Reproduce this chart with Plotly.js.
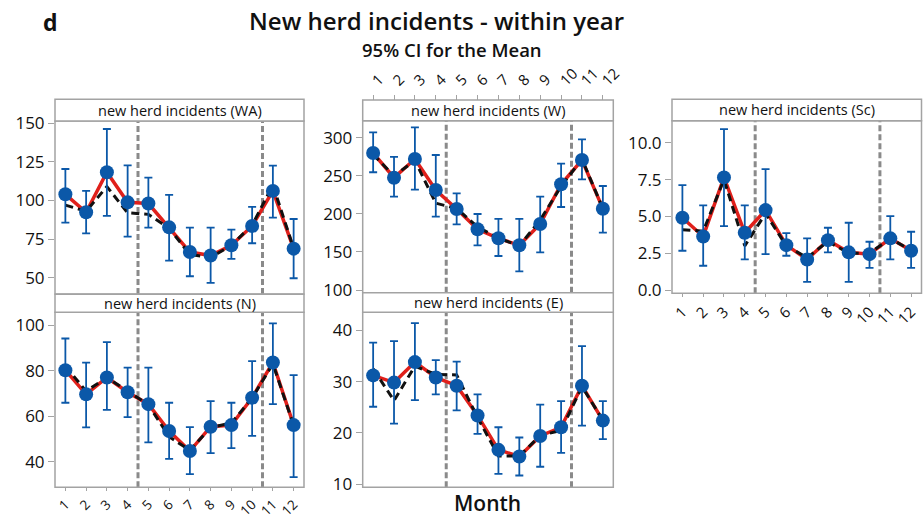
<!DOCTYPE html>
<html>
<head>
<meta charset="utf-8">
<script src="https://cdn.plot.ly/plotly-3.0.1.min.js"></script>
<style>html,body{margin:0;padding:0;background:#fff;}#chart{width:923px;height:519px;}</style>
</head>
<body>
<div id="chart"></div>
<script>
// ---------- DATA ----------
const months = [1,2,3,4,5,6,7,8,9,10,11,12];
const monthLabels = ["1","2","3","4","5","6","7","8","9","10","11","12"];

const waMean  = [104, 92.4, 118.3, 98.8, 98, 82.6, 66.6, 64.3, 71, 83.5, 106.2, 68.8];
const waUpper = [120.4, 106.2, 146.3, 122.8, 114.8, 103.6, 82.4, 82.4, 81.1, 95.8, 122.6, 88];
const waLower = [85.6, 78.7, 90, 76.6, 82.4, 61, 50.9, 46.6, 62.1, 72.3, 88.9, 49.6];
const waFit   = [97, 93, 109, 92, 91, 82, 65, 63, 71, 84, 110, 69];

const nMean  = [80.2, 69.6, 77, 70.5, 65.3, 53.5, 44.7, 55.4, 56.1, 68.1, 83.6, 56.1];
const nUpper = [94.1, 83.5, 92.5, 81.3, 81.3, 65.9, 55.2, 66.6, 65.9, 84.2, 100.7, 78];
const nLower = [65.9, 55.1, 62.8, 59.6, 48.5, 41.3, 34.6, 43.8, 46, 51.4, 65.3, 33.3];
const nFit   = [82, 71, 77, 71, 65, 51, 45, 55, 57, 68, 83, 56];

const wMean  = [279.9, 247.5, 272, 231.3, 206.4, 179.7, 167.9, 158.7, 186.7, 238.8, 270.7, 206.8];
const wUpper = [307.1, 274.7, 313.6, 277.3, 227, 199.8, 193.3, 193.3, 222.5, 265.9, 297.9, 236.6];
const wLower = [254.6, 222.5, 231.7, 196.3, 186.3, 158.7, 144.7, 124.6, 149.5, 209, 245.4, 175.3];
const wFit   = [278, 250, 270, 214, 207, 183, 168, 158, 192, 236, 272, 207];

const eMean  = [31.2, 29.8, 33.8, 30.8, 29.2, 23.4, 16.7, 15.4, 19.4, 21.1, 29.2, 22.4];
const eUpper = [37.6, 37.9, 41.4, 34.2, 33.9, 27.5, 21.1, 19.1, 25.5, 26.2, 36.9, 26.2];
const eLower = [25.1, 21.8, 26.4, 27.5, 24.4, 19.8, 12, 11.7, 13.4, 16.1, 21.4, 18.8];
const eFit   = [32.5, 26.3, 33, 31.4, 31.3, 23, 15.5, 15.5, 19.5, 20.5, 29, 22.5];

const scMean  = [4.91, 3.64, 7.65, 3.89, 5.43, 3.05, 2.08, 3.39, 2.56, 2.44, 3.51, 2.67];
const scUpper = [7.13, 5.75, 10.93, 5.75, 8.21, 3.87, 3.51, 4.23, 4.57, 3.28, 5.02, 3.96];
const scLower = [2.67, 1.65, 4.34, 2.08, 2.44, 2.33, 0.56, 2.56, 0.56, 1.51, 2.08, 1.51];
const scFit   = [4.1, 4.0, 7.5, 3.0, 5.2, 3.0, 2.2, 3.3, 2.5, 2.5, 3.5, 2.7];

const panelNames = ["new herd incidents (WA)", "new herd incidents (N)", "new herd incidents (W)",
                    "new herd incidents (E)", "new herd incidents (Sc)"];
const seasonBreaks = [4.5, 10.5];

// ---------- LAYOUT HELPERS ----------
const W = 923, H = 519;
const px = x => x / W;
const py = y => 1 - y / H;
const FONT = "Open Sans, Noto Sans, sans-serif";
const BLUE = "#0b58a8", RED = "#e0201b", GRAY = "#a3a3a3", DASHGRAY = "#8a8a8a";

const panels = [
  {mean: waMean, up: waUpper, lo: waLower, fit: waFit, x: [55, 304],    plot: [121, 294],    strip: [99.3, 121],   yr: [39.4, 151.5], dt: 25,  fmt: "",    xt: "none",   xf: 15},
  {mean: nMean,  up: nUpper,  lo: nLower,  fit: nFit,  x: [55, 304],    plot: [312.3, 487.3], strip: [294.3, 312.3], yr: [28.8, 105.6], dt: 20,  fmt: "",    xt: "bottom", xf: 13.5},
  {mean: wMean,  up: wUpper,  lo: wLower,  fit: wFit,  x: [362.7, 613.3], plot: [120.7, 292.7], strip: [100, 120.7],  yr: [96.5, 322.3], dt: 50,  fmt: "",    xt: "top",    xf: 15},
  {mean: eMean,  up: eUpper,  lo: eLower,  fit: eFit,  x: [362.7, 613.3], plot: [312.3, 487.3], strip: [292.7, 312.3], yr: [9.4, 43.5],  dt: 10,  fmt: "",    xt: "none",   xf: 15},
  {mean: scMean, up: scUpper, lo: scLower, fit: scFit, x: [672, 921.5], plot: [120.7, 293.3], strip: [99.3, 120.7], yr: [-0.22, 11.5], dt: 2.5, fmt: ".1f", xt: "bottom", xf: 15}
];

const traces = [];
const layout = {
  width: W, height: H,
  margin: {l: 0, r: 0, t: 0, b: 0},
  paper_bgcolor: "#fff", plot_bgcolor: "#fff",
  showlegend: false,
  font: {family: FONT, color: "#111"},
  shapes: [], annotations: []
};

panels.forEach((p, i) => {
  const n = i + 1;
  const xa = n === 1 ? "x" : "x" + n;
  const ya = n === 1 ? "y" : "y" + n;
  const xKey = n === 1 ? "xaxis" : "xaxis" + n;
  const yKey = n === 1 ? "yaxis" : "yaxis" + n;

  const xaxis = {
    domain: [px(p.x[0]), px(p.x[1])],
    range: [0.5, 12.5],
    showgrid: false, zeroline: false, showline: false,
    tickmode: "array", tickvals: months, ticktext: monthLabels,
    tickangle: -45,
    tickfont: {family: FONT, size: p.xf, color: "#111"},
    ticks: "", showticklabels: false,
    anchor: ya, fixedrange: true
  };
  if (p.xt === "bottom") {
    xaxis.ticks = "outside"; xaxis.ticklen = 3; xaxis.tickcolor = GRAY; xaxis.tickwidth = 1;
    xaxis.showticklabels = true;
  } else if (p.xt === "top") {
    xaxis.ticks = "outside"; xaxis.ticklen = 5; xaxis.tickcolor = GRAY; xaxis.tickwidth = 1;
    xaxis.showticklabels = true;
    xaxis.side = "top";
    xaxis.anchor = "free";
    xaxis.position = py(p.strip[0]);
  }
  layout[xKey] = xaxis;

  layout[yKey] = {
    domain: [py(p.plot[1]), py(p.plot[0])],
    range: p.yr,
    dtick: p.dt, tick0: 0,
    tickformat: p.fmt,
    showgrid: false, zeroline: false, showline: false,
    ticks: "outside", ticklen: 6, tickcolor: GRAY, tickwidth: 1,
    tickfont: {family: FONT, size: 17, color: "#111"},
    anchor: xa, fixedrange: true
  };

  // red mean line
  traces.push({x: months, y: p.mean, xaxis: xa, yaxis: ya, type: "scatter", mode: "lines",
    line: {color: RED, width: 3.5}, hoverinfo: "skip"});
  // black dashed line
  traces.push({x: months, y: p.fit, xaxis: xa, yaxis: ya, type: "scatter", mode: "lines",
    line: {color: "#111", width: 3, dash: "8px,5px"}, hoverinfo: "skip"});
  // CI bars + mean markers
  traces.push({x: months, y: p.mean, xaxis: xa, yaxis: ya, type: "scatter", mode: "markers",
    marker: {color: BLUE, size: 14},
    error_y: {type: "data", symmetric: false,
      array: p.up.map((u, k) => u - p.mean[k]),
      arrayminus: p.lo.map((l, k) => p.mean[k] - l),
      color: BLUE, thickness: 1.8, width: 4}
  });

  // plot border
  layout.shapes.push({type: "rect", xref: "paper", yref: "paper", layer: "above",
    x0: px(p.x[0]), x1: px(p.x[1]), y0: py(p.plot[1]), y1: py(p.plot[0]),
    line: {color: GRAY, width: 1.5}, fillcolor: "rgba(0,0,0,0)"});
  // strip
  layout.shapes.push({type: "rect", xref: "paper", yref: "paper", layer: "above",
    x0: px(p.x[0]), x1: px(p.x[1]), y0: py(p.strip[1]), y1: py(p.strip[0]),
    line: {color: GRAY, width: 1.5}, fillcolor: "#fff"});
  layout.annotations.push({xref: "paper", yref: "paper", showarrow: false,
    x: px((p.x[0] + p.x[1]) / 2), y: py((p.strip[0] + p.strip[1]) / 2),
    xanchor: "center", yanchor: "middle",
    text: panelNames[i], font: {family: FONT, size: 14.5, color: "#111"}});
  // season break lines
  seasonBreaks.forEach(b => {
    layout.shapes.push({type: "line", xref: xa, yref: ya + " domain", layer: "below",
      x0: b, x1: b, y0: 0, y1: 1, line: {color: DASHGRAY, width: 3, dash: "6px,3px"}});
  });
});

layout.annotations.push(
  {xref: "paper", yref: "paper", showarrow: false, x: px(436), y: py(20), xanchor: "center", yanchor: "middle",
   text: "New herd incidents - within year", font: {family: FONT, size: 24, color: "#111", weight: 600}},
  {xref: "paper", yref: "paper", showarrow: false, x: px(452), y: py(50), xanchor: "center", yanchor: "middle",
   text: "95% CI for the Mean", font: {family: FONT, size: 18.5, color: "#111", weight: 600}},
  {xref: "paper", yref: "paper", showarrow: false, x: px(50), y: py(22), xanchor: "center", yanchor: "middle",
   text: "<b>d</b>", font: {family: FONT, size: 23, color: "#111"}},
  {xref: "paper", yref: "paper", showarrow: false, x: px(487), y: py(503), xanchor: "center", yanchor: "middle",
   text: "Month", font: {family: FONT, size: 21, color: "#111", weight: 600}}
);

Plotly.newPlot("chart", traces, layout, {displayModeBar: false, staticPlot: true});
</script>
</body>
</html>
